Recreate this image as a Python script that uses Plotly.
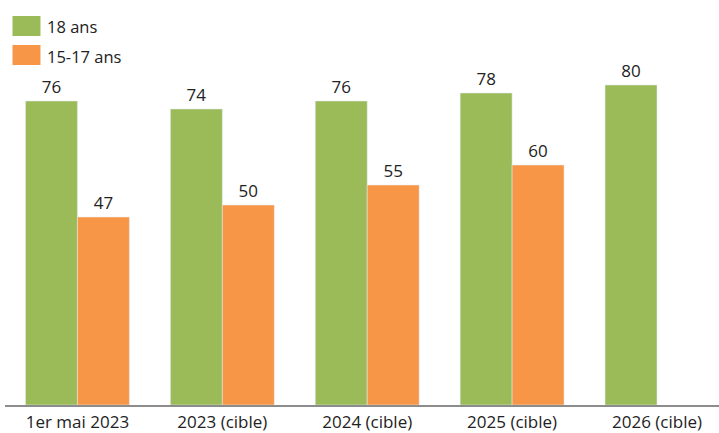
import plotly.graph_objects as go

categories = ["1er mai 2023", "2023 (cible)", "2024 (cible)", "2025 (cible)", "2026 (cible)"]
ans_18 = [76, 74, 76, 78, 80]
ans_15_17 = [47, 50, 55, 60, None]

GREEN = "#9BBB59"
ORANGE = "#F79646"
FONT = "Open Sans"
TXT = "#222222"

fig = go.Figure()
fig.add_trace(go.Bar(x=categories, y=ans_18, name="18 ans", marker_color=GREEN,
                     text=[str(v) for v in ans_18], textposition="outside",
                     textfont=dict(size=17, color=TXT, family=FONT), cliponaxis=False))
fig.add_trace(go.Bar(x=categories, y=ans_15_17, name="15-17 ans", marker_color=ORANGE,
                     text=[str(v) if v is not None else "" for v in ans_15_17],
                     textposition="outside",
                     textfont=dict(size=17, color=TXT, family=FONT), cliponaxis=False))

# Legend drawn as swatches + labels in the top-left corner
legend_items = [("18 ans", GREEN), ("15-17 ans", ORANGE)]
for i, (label, col) in enumerate(legend_items):
    y0 = 16 + i * 29
    fig.add_shape(type="rect", xref="paper", yref="paper",
                  x0=(12 - 4.5) / 714.5, x1=(40 - 4.5) / 714.5,
                  y0=1 - (y0 + 20) / 405, y1=1 - y0 / 405,
                  fillcolor=col, line=dict(width=0))
    fig.add_annotation(text=label, xref="paper", yref="paper",
                       x=(45 - 4.5) / 714.5, y=1 - (y0 + 11) / 405,
                       xanchor="left", yanchor="middle", showarrow=False,
                       font=dict(size=16.5, color=TXT, family=FONT))

fig.update_layout(
    width=719, height=433,
    margin=dict(l=4.5, r=0, t=0, b=28, autoexpand=False),
    paper_bgcolor="white", plot_bgcolor="white",
    barmode="group", bargap=0.283, bargroupgap=0,
    showlegend=False,
    font=dict(family=FONT, color=TXT),
)
fig.update_xaxes(range=[-0.5, 4.428], showline=True, linecolor="#8C8C8C", linewidth=1.5,
                 ticks="", ticklabelstandoff=1, automargin=False,
                 tickfont=dict(size=17, color=TXT, family=FONT), showgrid=False)
fig.update_yaxes(range=[0, 101.25], visible=False, showgrid=False, zeroline=False,
                 automargin=False)

fig.write_html("out.html")
